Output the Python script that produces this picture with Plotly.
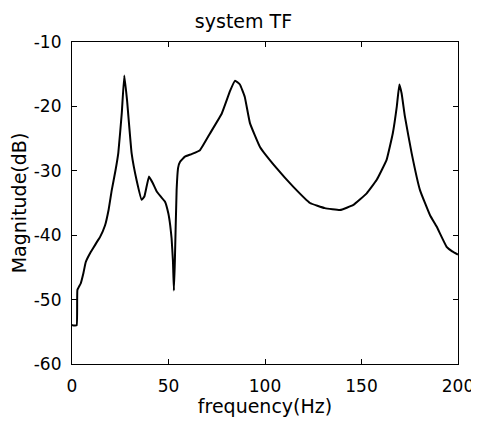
import plotly.graph_objects as go

freq_hz = [0, 0.5, 2.4, 2.8, 4.5, 5.9, 7.1, 9, 11, 13, 14.5, 17.1, 19, 20.6, 22.5, 24, 25.8, 27.1, 28.5, 30.9,
           33.5, 36.1, 37.5, 39.9, 42, 43.9, 46, 48.2, 49.9, 50.9, 51.6, 52.3, 52.8, 53.3, 54.2, 55, 56, 58.5,
           62, 66.3, 71.5, 77.6, 81.9, 84.5, 87, 89.5, 92.2, 97.4, 106, 114.7, 123.3, 131, 138.9, 145.8,
           152.7, 157.9, 163, 166.2, 168.3, 169.6, 170.8, 172.5, 176, 180.3, 185.5, 189, 194.1, 197, 200]
magnitude_db = [-54, -54, -54, -48.5, -47.5, -45.9, -44.2, -43, -42, -41, -40.3, -38.5, -36, -33, -30, -27.2,
                -21, -15.2, -19, -27.3, -31.5, -34.5, -34, -30.9, -32, -33.2, -34, -34.8, -36.6, -38.5, -40.5,
                -44, -48.6, -44, -33, -29.5, -28.6, -27.8, -27.4, -26.8, -24.2, -21.1, -17.6, -16, -16.6,
                -18.5, -22.6, -26.3, -29.6, -32.5, -35.0, -35.8, -36.1, -35.3, -33.5, -31.4, -28.3, -24.2,
                -20, -16.6, -18, -21.6, -27.3, -33, -36.9, -38.7, -41.8, -42.5, -43]

x_ticks = [0, 50, 100, 150, 200]
x_tick_labels = ["0", "50", "100", "150", "200"]
y_ticks = [-60, -50, -40, -30, -20, -10]
y_tick_labels = ["-60", "-50", "-40", "-30", "-20", "-10"]

FONT = "DejaVu Sans"

fig = go.Figure(go.Scatter(x=freq_hz, y=magnitude_db, mode="lines",
                           line=dict(color="black", width=2, shape="spline", smoothing=0.3)))

axis_common = dict(showgrid=False, zeroline=False, showline=True, linecolor="black", linewidth=1.2,
                   mirror="ticks", ticks="inside", ticklen=5, tickcolor="black", automargin=False,
                   ticklabelstandoff=6,
                   tickfont=dict(family=FONT, size=17, color="black"))

# the page body adds an 8px offset, so the figure is sized to fit the 479x423 window
fig.update_layout(
    width=471, height=415,
    margin=dict(l=64, r=21, t=34, b=59),
    paper_bgcolor="white", plot_bgcolor="white",
    showlegend=False,
    title=dict(text="system TF", x=0.5, xanchor="center", y=0.969, yanchor="middle",
               font=dict(family=FONT, size=19, color="black")),
    xaxis=dict(range=[0, 200], tickvals=x_ticks, ticktext=x_tick_labels,
               title=dict(text="frequency(Hz)", standoff=0, font=dict(family=FONT, size=19, color="black")),
               **axis_common),
    yaxis=dict(range=[-60, -10], tickvals=y_ticks, ticktext=y_tick_labels,
               title=dict(text="Magnitude(dB)", standoff=4, font=dict(family=FONT, size=19, color="black")),
               **axis_common),
)

fig.write_html("out.html")
